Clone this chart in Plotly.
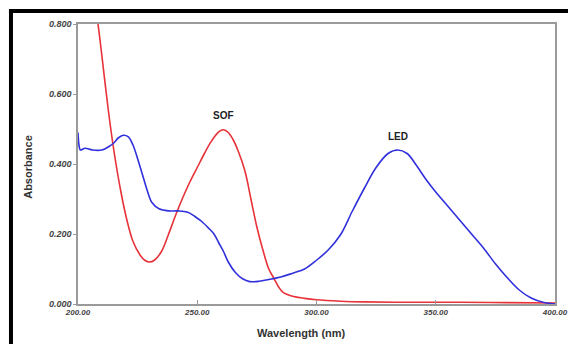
import plotly.graph_objects as go

# LED (blue) spectrum
led_wl = [200, 200.5, 201, 203, 206, 210, 213, 215, 217, 219, 221, 223, 225, 227, 229, 231,
          234, 238, 242, 246, 249, 252, 255, 257, 259, 261, 263, 266, 269, 272, 276, 280,
          285, 290, 295, 300, 305, 310, 315, 320, 325, 330, 334, 338, 342, 346, 350, 355,
          360, 365, 370, 375, 380, 385, 390, 395, 400]
led_abs = [0.49, 0.45, 0.44, 0.445, 0.44, 0.44, 0.45, 0.46, 0.475, 0.482, 0.478, 0.455, 0.415,
           0.37, 0.325, 0.29, 0.272, 0.266, 0.266, 0.262, 0.25, 0.235, 0.215, 0.2, 0.175, 0.15,
           0.12, 0.09, 0.072, 0.064, 0.065, 0.07, 0.077, 0.088, 0.1, 0.125, 0.155, 0.197, 0.265,
           0.33, 0.39, 0.43, 0.44, 0.43, 0.395, 0.355, 0.32, 0.28, 0.24, 0.2, 0.16, 0.115, 0.075,
           0.04, 0.017, 0.005, 0.0]

# SOF (red) spectrum
sof_wl = [200, 204, 206, 208.4, 210, 212.6, 215, 218, 220.5, 223, 226, 228, 230, 232, 235, 238,
          241, 244, 247, 250, 253, 256, 259, 261, 263, 265, 267, 270, 272.5, 275, 277.5, 280,
          282, 284, 286, 290, 295, 300, 310, 320, 340, 360, 380, 400]
sof_abs = [1.28, 1.05, 0.92, 0.8, 0.71, 0.56, 0.44, 0.32, 0.24, 0.18, 0.14, 0.125, 0.12, 0.125,
           0.15, 0.2, 0.255, 0.305, 0.35, 0.39, 0.43, 0.466, 0.492, 0.498, 0.49, 0.47, 0.44, 0.38,
           0.3, 0.22, 0.155, 0.1, 0.075, 0.05, 0.033, 0.022, 0.016, 0.012, 0.008, 0.006, 0.005,
           0.005, 0.004, 0.003]

x_ticks = [200, 250, 300, 350, 400]
x_tick_labels = ["200.00", "250.00", "300.00", "350.00", "400.00"]
y_ticks = [0.0, 0.2, 0.4, 0.6, 0.8]
y_tick_labels = ["0.000", "0.200", "0.400", "0.600", "0.800"]

labels = [("SOF", 261, 0.498), ("LED", 334, 0.44)]

fig = go.Figure()
fig.add_trace(go.Scatter(x=sof_wl, y=sof_abs, mode="lines", line=dict(color="#e8323a", width=1.6),
                         line_shape="spline", showlegend=False))
fig.add_trace(go.Scatter(x=led_wl, y=led_abs, mode="lines", line=dict(color="#3030dc", width=1.6),
                         line_shape="spline", showlegend=False))

for txt, xv, yv in labels:
    fig.add_annotation(x=xv, y=yv, text=txt, showarrow=False, yshift=14,
                       font=dict(family="Liberation Sans", size=10, color="#222222", weight="bold"))

title_font = dict(family="Liberation Sans", size=11, color="#333333", weight="bold")
fig.add_annotation(xref="paper", yref="paper", x=0.4696, y=-0.1036, text="Wavelength (nm)",
                   showarrow=False, font=title_font, xanchor="center", yanchor="middle")
fig.add_annotation(xref="paper", yref="paper", x=-0.1048, y=0.49, text="Absorbance",
                   showarrow=False, font=title_font, textangle=-90, xanchor="center", yanchor="middle")

# black frame on top and left (image border)
fig.add_shape(type="rect", xref="paper", yref="paper", x0=-0.1447, x1=-0.1363, y0=-0.15, y1=1.054,
              fillcolor="black", line_width=0, layer="above")
fig.add_shape(type="rect", xref="paper", yref="paper", x0=-0.1447, x1=1.05, y0=1.0393, y1=1.054,
              fillcolor="black", line_width=0, layer="above")

x_tick_font = dict(family="Liberation Sans", size=8, color="#444444", weight="bold", style="italic")
y_tick_font = dict(family="Liberation Sans", size=9, color="#444444", weight="bold", style="italic")
fig.update_layout(
    width=568, height=344,
    margin=dict(l=78, r=13, t=24, b=40, autoexpand=False),
    paper_bgcolor="white", plot_bgcolor="white",
    xaxis=dict(range=[200, 400], tickvals=x_ticks, ticktext=x_tick_labels, automargin=False,
               showgrid=False, zeroline=False, showline=True, linecolor="#9a9a9a", linewidth=1.5,
               mirror=True, ticks="inside", ticklen=4, tickcolor="#9a9a9a",
               tickfont=x_tick_font),
    yaxis=dict(range=[0, 0.8], tickvals=y_ticks, ticktext=y_tick_labels, automargin=False,
               showgrid=False, zeroline=False, showline=True, linecolor="#9a9a9a", linewidth=1.5,
               mirror=True, ticks="outside", ticklen=3, tickcolor="#9a9a9a",
               tickfont=y_tick_font),
)

fig.write_html("out.html")
